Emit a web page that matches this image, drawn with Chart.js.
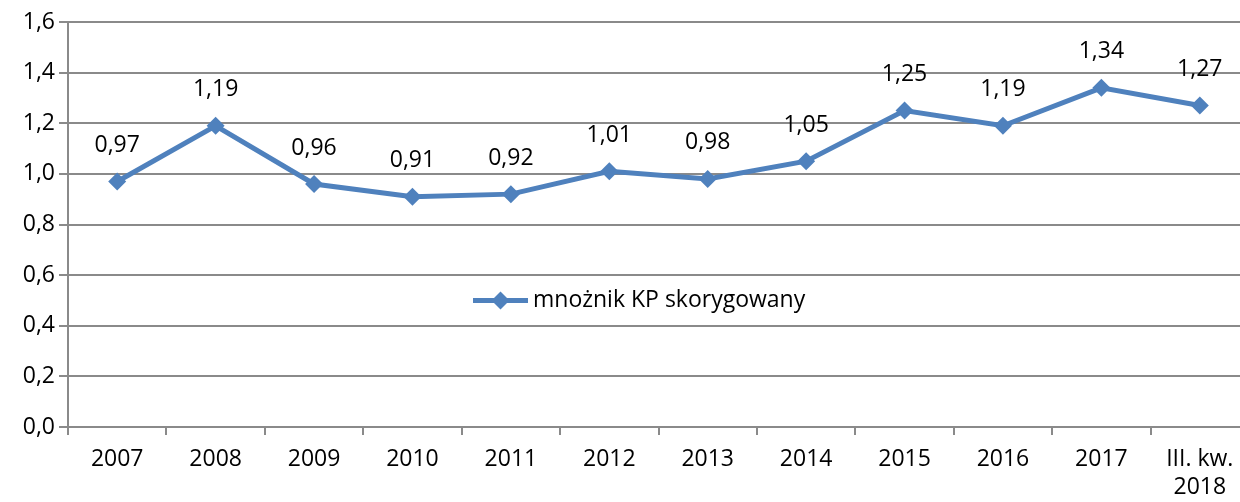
<!DOCTYPE html>
<html>
<head>
<meta charset="utf-8">
<script src="https://cdn.jsdelivr.net/npm/chart.js@4/dist/chart.umd.min.js"></script>
<style>
  html, body { margin: 0; padding: 0; background: #fff; overflow: hidden; }
  #wrap { width: 1240px; height: 502px; overflow: hidden; }
  #box { width: 1258px; height: 502px; position: relative; }
</style>
</head>
<body>
<div id="wrap"><div id="box"><canvas id="chart"></canvas></div></div>
<script>
// Data
const categories = ['2007', '2008', '2009', '2010', '2011', '2012', '2013', '2014', '2015', '2016', '2017', ['III. kw.', '2018']];
const multiplierValues = [0.97, 1.19, 0.96, 0.91, 0.92, 1.01, 0.98, 1.05, 1.25, 1.19, 1.34, 1.27];
const seriesName = 'mnożnik KP skorygowany';
const yTicks = [0, 0.2, 0.4, 0.6, 0.8, 1.0, 1.2, 1.4, 1.6];

const FONT = '"Open Sans", Lato, sans-serif';
const BLUE = '#4F81BD';
const GRID = '#8a8a8a';

const fmt = v => v.toFixed(2).replace('.', ',');

// value labels above each point
const pointLabels = {
    id: 'pointLabels',
    afterDatasetsDraw(chart) {
        const ctx = chart.ctx;
        const meta = chart.getDatasetMeta(0);
        ctx.save();
        ctx.font = '23px ' + FONT;
        ctx.fillStyle = '#000';
        ctx.textAlign = 'center';
        ctx.textBaseline = 'middle';
        meta.data.forEach((pt, i) => {
            ctx.fillText(fmt(multiplierValues[i]), pt.x, pt.y - 36);
        });
        ctx.restore();
    }
};

// legend drawn inside the plot area
const innerLegend = {
    id: 'innerLegend',
    afterDraw(chart) {
        const ctx = chart.ctx;
        const y = chart.scales.y.getPixelForValue(0.5);
        const x0 = 473, x1 = 528, xm = (x0 + x1) / 2;
        ctx.save();
        ctx.strokeStyle = BLUE;
        ctx.lineWidth = 5;
        ctx.beginPath();
        ctx.moveTo(x0, y);
        ctx.lineTo(x1, y);
        ctx.stroke();
        ctx.fillStyle = BLUE;
        ctx.beginPath();
        ctx.moveTo(xm, y - 9);
        ctx.lineTo(xm + 9, y);
        ctx.lineTo(xm, y + 9);
        ctx.lineTo(xm - 9, y);
        ctx.closePath();
        ctx.fill();
        ctx.fillStyle = '#000';
        ctx.font = '23px ' + FONT;
        ctx.textAlign = 'left';
        ctx.textBaseline = 'middle';
        ctx.fillText(seriesName, x1 + 5, y);
        ctx.restore();
    }
};

new Chart(document.getElementById('chart').getContext('2d'), {
    type: 'line',
    data: {
        labels: categories,
        datasets: [{
            label: seriesName,
            data: multiplierValues,
            borderColor: BLUE,
            backgroundColor: BLUE,
            borderWidth: 5,
            pointStyle: 'rectRot',
            pointRadius: 9,
            pointHoverRadius: 9,
            pointBorderWidth: 0,
            tension: 0,
            fill: false
        }]
    },
    options: {
        responsive: true,
        maintainAspectRatio: false,
        animation: false,
        layout: { padding: { top: 22, right: 0, left: 0, bottom: 0 } },
        plugins: {
            legend: { display: false },
            tooltip: { enabled: false }
        },
        scales: {
            x: {
                offset: true,
                grid: {
                    offset: true,
                    drawOnChartArea: false,
                    color: GRID,
                    lineWidth: 2,
                    tickLength: 8
                },
                border: { color: GRID, width: 2 },
                ticks: {
                    color: '#000',
                    font: { family: FONT, size: 23 },
                    padding: 11,
                    maxRotation: 0,
                    autoSkip: false
                },
                afterFit(scale) { scale.height = 75; }
            },
            y: {
                min: 0,
                max: 1.6,
                afterBuildTicks(scale) { scale.ticks = yTicks.map(v => ({ value: v })); },
                grid: {
                    color: GRID,
                    lineWidth: 2,
                    tickLength: 9
                },
                border: { color: GRID, width: 2 },
                ticks: {
                    color: '#000',
                    font: { family: FONT, size: 23 },
                    padding: 4,
                    callback: v => v.toFixed(1).replace('.', ',')
                },
                afterFit(scale) { scale.width = 68; }
            }
        }
    },
    plugins: [pointLabels, innerLegend]
});
</script>
</body>
</html>
